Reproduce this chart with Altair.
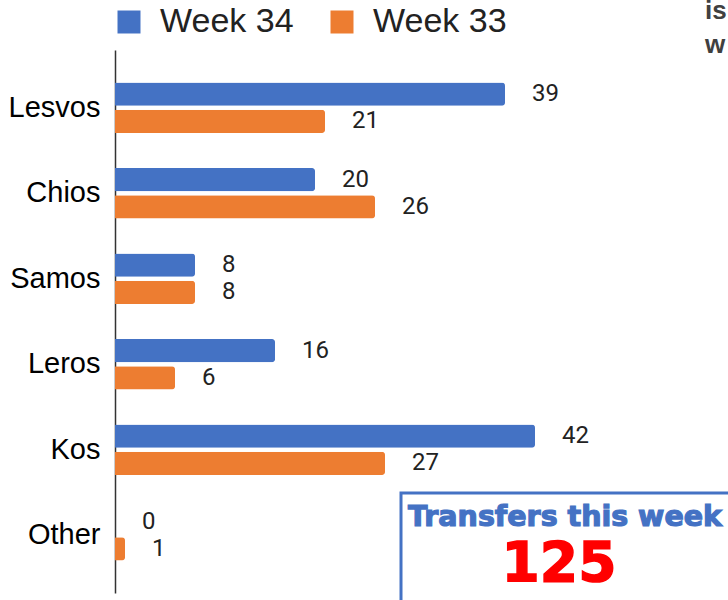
import altair as alt
import pandas as pd

categories = ["Lesvos", "Chios", "Samos", "Leros", "Kos", "Other"]
week34 = [39, 20, 8, 16, 42, 0]
week33 = [21, 26, 8, 6, 27, 1]
series = ["Week 34", "Week 33"]
colors = ["#4472C4", "#ED7D31"]
box_title = "Transfers this week"
box_value = "125"

rows = []
for c, a, b in zip(categories, week34, week33):
    rows.append({"cat": c, "series": "Week 34", "value": a})
    rows.append({"cat": c, "series": "Week 33", "value": b})
df = pd.DataFrame(rows)

y_enc = alt.Y("cat:N", sort=categories, title=None,
              scale=alt.Scale(paddingInner=0.41, paddingOuter=0.38),
              axis=alt.Axis(ticks=False, labelFontSize=29, labelFont="Liberation Sans",
                            labelColor="#000000", labelPadding=15, domainColor="#333333",
                            domainWidth=1.5))
yo_enc = alt.YOffset("series:N", sort=series,
                     scale=alt.Scale(paddingInner=0.15, paddingOuter=0))
x_enc = alt.X("value:Q", scale=alt.Scale(domain=[0, 61.3]), axis=None)

base = alt.Chart(df)
bars = base.mark_bar(cornerRadiusEnd=3).encode(
    y=y_enc, yOffset=yo_enc, x=x_enc,
    color=alt.Color("series:N", sort=series,
                    scale=alt.Scale(domain=series, range=colors),
                    legend=alt.Legend(title=None, orient="none", legendX=-3, legendY=-45,
                                      direction="horizontal", symbolType="square",
                                      symbolSize=529, symbolStrokeWidth=0,
                                      labelFontSize=34, labelFont="Liberation Sans",
                                      labelColor="#222222", columnPadding=31,
                                      labelOffset=14)),
)
labels = base.mark_text(align="left", baseline="middle", dx=27, fontSize=24,
                        font="Roboto", color="#222222").encode(
    y=y_enc, yOffset=yo_enc, x=x_enc, text="value:Q")

box = alt.Chart(pd.DataFrame({"t": [box_title]})).mark_rect(
    fill="white", stroke="#4472C4", strokeWidth=3).encode(
    x=alt.value(286), x2=alt.value(650), y=alt.value(443), y2=alt.value(570))
box_t = alt.Chart(pd.DataFrame({"t": [box_title]})).mark_text(
    align="left", baseline="alphabetic", fontSize=28.5, fontWeight="bold",
    font="DejaVu Sans", color="#4472C4", stroke="#4472C4", strokeWidth=1.2).encode(
    x=alt.value(293), y=alt.value(476), text="t:N")
box_v = alt.Chart(pd.DataFrame({"t": [box_value]})).mark_text(
    align="center", baseline="alphabetic", fontSize=55, fontWeight="bold",
    font="DejaVu Sans", color="#FF0000", stroke="#FF0000", strokeWidth=1.5).encode(
    x=alt.value(444), y=alt.value(531), text="t:N")
corner1 = alt.Chart(pd.DataFrame({"t": ["is"]})).mark_text(
    align="left", baseline="alphabetic", fontSize=26, fontWeight="bold",
    font="Liberation Sans", color="#404040").encode(
    x=alt.value(590), y=alt.value(-31), text="t:N")
corner2 = alt.Chart(pd.DataFrame({"t": ["w"]})).mark_text(
    align="left", baseline="alphabetic", fontSize=26, fontWeight="bold",
    font="Liberation Sans", color="#404040").encode(
    x=alt.value(590), y=alt.value(3), text="t:N")

chart = alt.layer(bars, labels, box, box_t, box_v, corner1, corner2).properties(
    width=613, height=543,
    padding={"left": 115, "top": 50, "right": 0, "bottom": 7},
    autosize=alt.AutoSizeParams(type="none"),
    background="white",
).configure_view(stroke=None)

chart.save("out.html", embed_options={"renderer": "svg", "actions": False})
